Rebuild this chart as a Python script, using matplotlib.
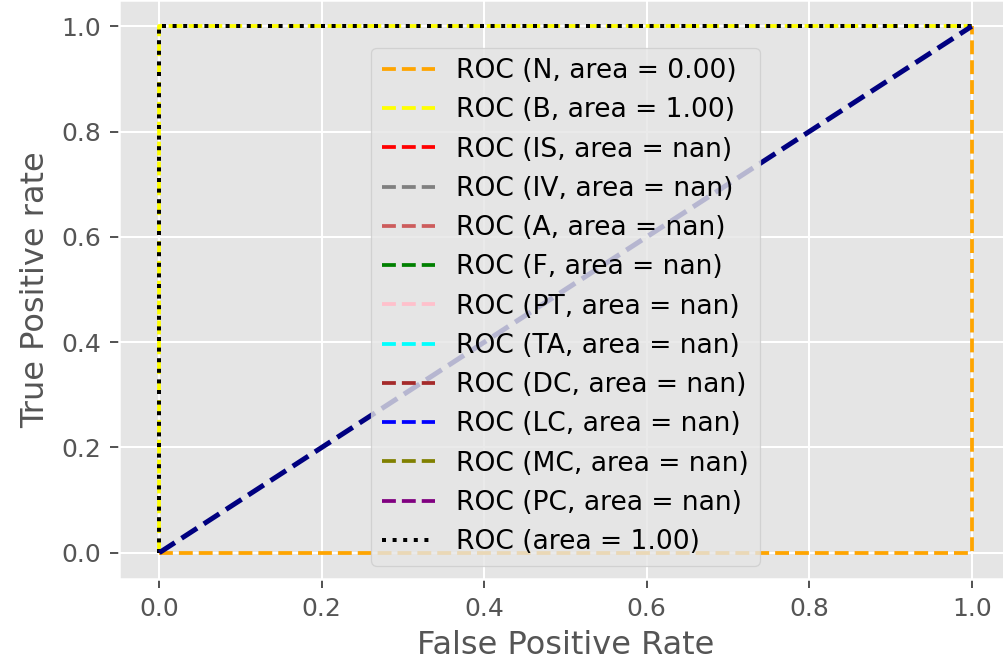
import numpy as np
import matplotlib
matplotlib.use('Agg')
import matplotlib.pyplot as plt

plt.style.use('ggplot')

# classes, colours and AUC per class
classes = ['N', 'B', 'IS', 'IV', 'A', 'F', 'PT', 'TA', 'DC', 'LC', 'MC', 'PC']
colors = ['orange', 'yellow', 'red', 'grey', 'indianred', 'green', 'pink',
          'cyan', 'brown', 'blue', 'olive', 'purple']
roc_auc = [0.00, 1.00] + [np.nan] * 10

# roc curves (classes with no positive samples give nan)
fpr = [[0, 1, 1], [0, 0, 1]] + [[np.nan]] * 10
tpr = [[0, 0, 1], [0, 1, 1]] + [[np.nan]] * 10

fpr_micro = [0, 0, 1]
tpr_micro = [0, 1, 1]
auc_micro = 1.00

fig = plt.figure(figsize=(1003 / 180, 667 / 180), dpi=180)
ax = fig.add_axes([118.7 / 1003, 88 / 667, 893.6 / 1003, 579 / 667])

for i, c in enumerate(classes):
    ax.plot(fpr[i], tpr[i], color=colors[i], lw=1.5, linestyle='--',
            label='ROC ({0}, area = {1:0.2f})'.format(c, roc_auc[i]))

ax.plot(fpr_micro, tpr_micro, color='black', lw=1.6, linestyle=':',
        label='ROC (area = {0:0.2f})'.format(auc_micro))

ax.plot([0, 1], [0, 1], color='navy', lw=2, linestyle='--')

ax.set_xlabel('False Positive Rate', fontsize=12.8)
ax.set_ylabel('True Positive rate', fontsize=12.8)
ax.tick_params(labelsize=10)
ax.legend(loc='lower center', fontsize=10.6)

fig.savefig('out.png', dpi=180)
